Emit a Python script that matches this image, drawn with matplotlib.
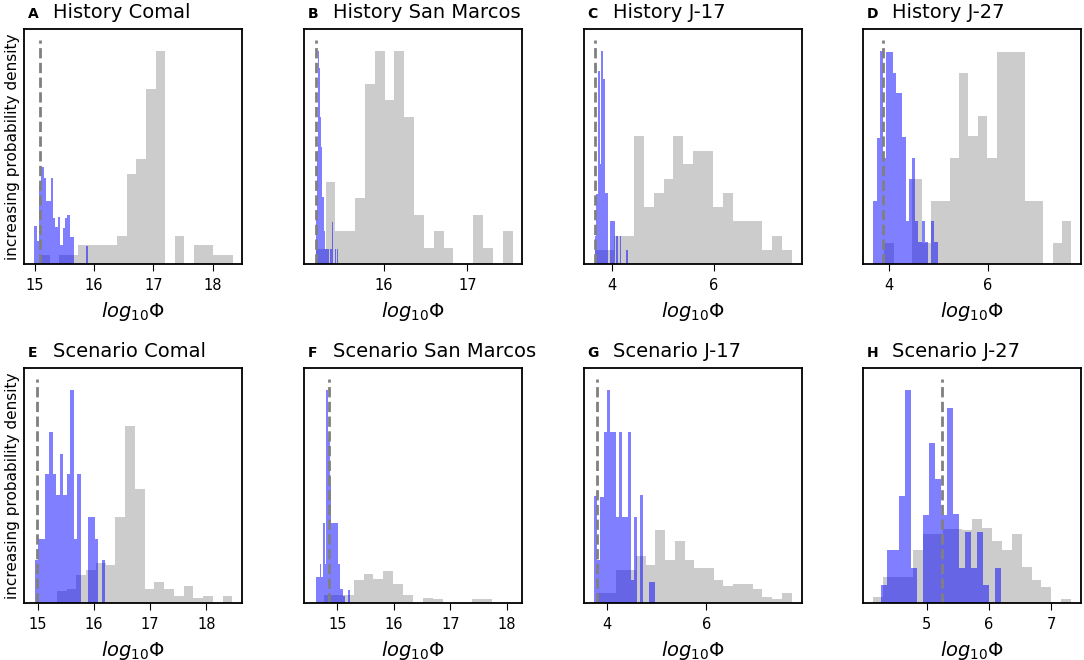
import numpy as np
import matplotlib
matplotlib.use("Agg")
import matplotlib.pyplot as plt

# panel labels / titles
letters = ["A", "B", "C", "D", "E", "F", "G", "H"]
titles = ["History Comal", "History San Marcos", "History J-17", "History J-27",
          "Scenario Comal", "Scenario San Marcos", "Scenario J-17", "Scenario J-27"]

# observed value (dashed line), log10 Phi
observed = [15.085, 15.18, 3.659, 3.885, 14.98, 14.86, 3.798, 5.247]

# x tick values per panel
xticks = [[15, 16, 17, 18], [16, 17], [4, 6], [4, 6],
          [15, 16, 17, 18], [15, 16, 17, 18], [4, 6], [5, 6, 7]]
xlims = [(14.82, 18.50), (15.04, 17.652), (3.443, 7.725), (3.478, 7.898),
         (14.762, 18.636), (14.412, 18.265), (3.529, 7.926), (3.987, 7.485)]

# prior (grey) histograms: first bin edge, bin width, relative density
prior_start = [15.085, 15.18, 3.66, 3.898, 14.994, 14.59, 3.798, 4.147]
prior_width = [0.1627, 0.118, 0.1934, 0.19, 0.1735, 0.175, 0.1963, 0.1587]
prior_a = [28, 0, 28, 28, 57, 57, 57, 57, 85, 270, 315, 525, 640, 0, 85, 0, 57, 57, 28, 28]
prior_b = [45, 245, 100, 100, 197, 540, 640, 493, 640, 442, 147, 47, 100, 47, 0, 0, 147, 47, 0, 100]
prior_c = [42, 42, 85, 85, 385, 170, 213, 255, 385, 300, 340, 340, 170, 213, 128, 128, 128, 42, 85, 42]
prior_d = [62, 0, 0, 256, 62, 190, 190, 320, 575, 385, 447, 320, 640, 640, 640, 190, 190, 0, 62, 128]
prior_e = [0, 0, 35, 43, 85, 98, 120, 113, 258, 533, 343, 43, 63, 43, 21, 50, 16, 21, 0, 21]
prior_f = [0, 23, 23, 23, 68, 88, 73, 96, 58, 23, 0, 15, 12, 0, 0, 0, 11, 13, 0, 0]
prior_g = [30, 30, 98, 98, 140, 113, 218, 128, 186, 128, 106, 106, 70, 50, 56, 56, 43, 18, 12, 30]
prior_h = [18, 78, 78, 78, 158, 208, 208, 223, 223, 218, 253, 225, 186, 158, 206, 108, 70, 48, 0, 13]

# posterior (blue) histograms
post_start = [14.989, 15.18, 3.66, 3.681, 14.952, 14.629, 3.744, 4.276]
post_width = [0.0398, 0.0136, 0.0325, 0.0651, 0.0624, 0.0297, 0.0616, 0.096]
post_a = [115, 70, 237, 292, 257, 190, 190, 257, 137, 112, 142, 57, 107, 137, 147, 82, 82,
          0, 0, 0, 0, 0, 54]
post_b = [147, 340, 640, 590, 440, 350, 200, 100, 45, 45, 45, 45, 0, 45, 125, 0, 0, 45, 0, 45]
post_c = [85, 210, 580, 300, 640, 555, 212, 212, 0, 128, 128, 128, 0, 85, 0, 85, 0, 0, 0, 42]
post_d = [190, 380, 642, 320, 640, 640, 575, 515, 515, 382, 128, 257, 320, 128, 65, 128, 65,
          0, 128, 65]
post_e = [128, 193, 193, 388, 513, 388, 323, 448, 323, 388, 640, 193, 388, 0, 0, 258, 258,
          193, 0, 128]
post_f = [78, 78, 118, 78, 240, 118, 640, 493, 355, 240, 240, 240, 240, 118, 43, 43, 20, 0, 0, 40]
post_g = [321, 128, 318, 513, 640, 513, 513, 258, 513, 258, 258, 513, 70, 258, 0, 323, 0, 0,
          63, 63]
post_h = [53, 160, 160, 321, 640, 106, 0, 263, 480, 373, 263, 586, 268, 106, 213, 106, 213,
          53, 0, 106]

prior = [prior_a, prior_b, prior_c, prior_d, prior_e, prior_f, prior_g, prior_h]
post = [post_a, post_b, post_c, post_d, post_e, post_f, post_g, post_h]

fig, axes = plt.subplots(2, 4, figsize=(10.84, 6.6), dpi=100)
fig.subplots_adjust(left=0.0224, right=0.9975, bottom=0.0864, top=0.956,
                    wspace=0.284, hspace=0.443)

for i, ax in enumerate(axes.flat):
    hp = np.array(prior[i], dtype=float)
    ep = prior_start[i] + prior_width[i] * np.arange(len(hp) + 1)
    hb = np.array(post[i], dtype=float)
    eb = post_start[i] + post_width[i] * np.arange(len(hb) + 1)

    # bin centres as sample values, heights as weights
    ax.hist(0.5 * (ep[:-1] + ep[1:]), bins=ep, weights=hp, color='grey', alpha=0.4)
    ax.hist(0.5 * (eb[:-1] + eb[1:]), bins=eb, weights=hb, color='blue', alpha=0.5)

    ymax = max(hp.max(), hb.max())
    ax.vlines(observed[i], 0, 1.05 * ymax, colors='grey', linestyles='--', lw=2)
    ax.set_ylim(0, 1.1025 * ymax)
    ax.set_xlim(*xlims[i])
    ax.set_xticks(xticks[i])
    ax.set_yticks([])
    ax.tick_params(axis='x', labelsize=10.5, length=5, pad=5)
    for s in ax.spines.values():
        s.set_linewidth(1.3)
    ax.set_xlabel(r'$log_{10}\Phi$', fontsize=14, labelpad=5)

    ax.text(0.016, 1.047, letters[i], transform=ax.transAxes, fontsize=10,
            fontweight='bold', va='baseline', ha='left')
    ax.text(0.133, 1.047, titles[i], transform=ax.transAxes, fontsize=14,
            va='baseline', ha='left')

    if i % 4 == 0:
        ax.set_ylabel('increasing probability density', fontsize=11, labelpad=3)

fig.savefig('out.png', dpi=100)
